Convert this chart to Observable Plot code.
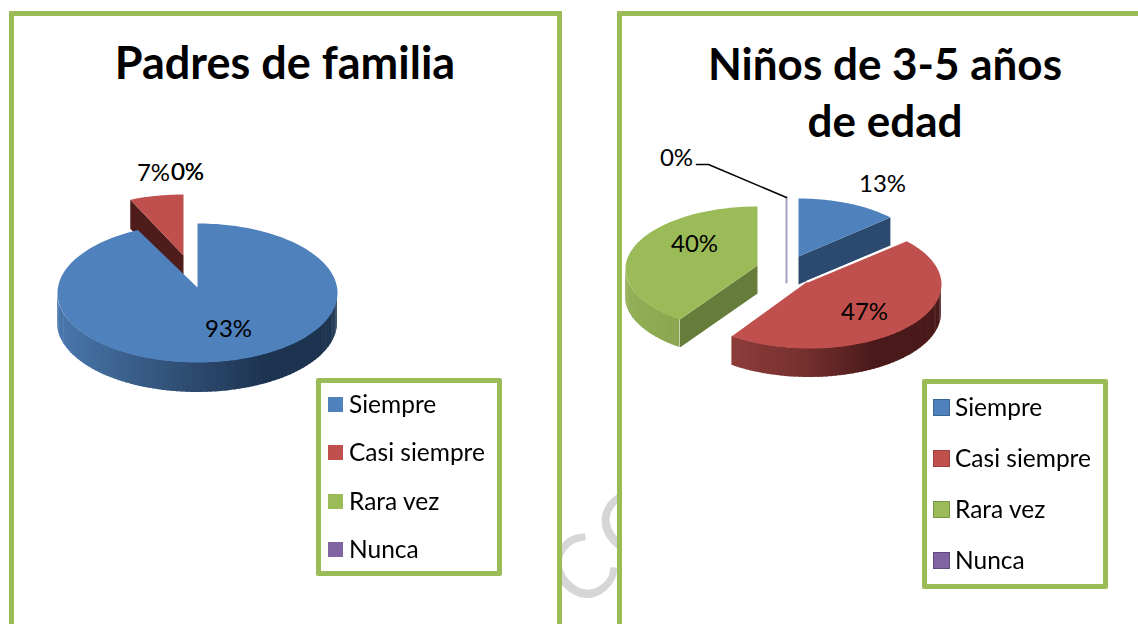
<!DOCTYPE html>
<html><head><meta charset="utf-8">
<script src="https://cdn.jsdelivr.net/npm/d3@7"></script>
<script src="https://cdn.jsdelivr.net/npm/@observablehq/plot@0.6"></script>
<style>
html,body{margin:0;padding:0;background:#fff;overflow:hidden}
#stage{position:relative;width:1138px;height:624px;overflow:hidden;font-family:Lato,sans-serif;color:#000}
.panel{position:absolute;top:11px;height:700px;box-sizing:border-box;border:5px solid #9bbb59;background:#fff}
.title{position:absolute;text-align:center;font-weight:700;line-height:57px;white-space:nowrap}
.legend{position:absolute;box-sizing:border-box;border:5px solid #9bbb59;border-radius:2px;background:#fff}
.item{position:absolute;font-size:24.5px;line-height:26px;white-space:nowrap}
.sw{position:absolute;box-sizing:border-box}
.mark{position:absolute;left:581px;top:511px;font-size:88px;line-height:88px;letter-spacing:7px;color:#d6d6d6;transform:rotate(-42deg);transform-origin:30px 90px;white-space:nowrap}
#plot{position:absolute;left:0;top:0}
</style></head><body>
<div id="stage">
  <div class="mark">CO</div>
  <div class="panel" style="left:9px;width:553px"></div>
  <div class="panel" style="left:617px;width:600px"></div>
  <div class="title" style="left:14px;width:542px;top:34px;font-size:45px">Padres de familia</div>
  <div class="title" style="left:622px;width:526px;top:35px;font-size:44px">Niños de 3-5 años<br>de edad</div>
  <div id="plot"></div>
  <div id="legend-a"></div>
  <div id="legend-b"></div>
</div>
<script>
// ---------- data ----------
const categorias = ["Siempre", "Casi siempre", "Rara vez", "Nunca"];
const padres = [93, 7, 0, 0];
const ninos = [13, 47, 40, 0];
const titulos = ["Padres de familia", "Niños de 3-5 años de edad"];

// ---------- style ----------
const colores = ["#4f81bd", "#c0504d", "#9bbb59", "#8064a2"];
const bordes = ["#3b6593", "#9c3f3c", "#7a9545", "#5f4a7d"];
const caras = ["#2c4a70", "#4e1c1b", "#667c3a", "#a79fc0"];
const rampas = [
  ["#4a78ae", "#2d4a6e", "#1d3450", "#1d3450"],
  ["#a04543", "#74302e", "#4a1a1a", "#4a1a1a"],
  ["#93b056", "#7e9a48", "#6a8239", "#6a8239"],
  ["#8064a2", "#8064a2", "#8064a2", "#8064a2"]
];
// per-slice projection (exploded 3D pie) and label offset; order = painter's order
const vistaPadres = [
  {i: 1, apex: [183, 255], c: [183, 249], rx: 125, ry: 55, d: 29, lab: [-30, -82]},
  {i: 0, apex: [197, 287], c: [197, 292.5], rx: 140, ry: 69.5, d: 30, lab: [31, 42]},
  {i: 2, apex: [183, 255], lab: [4, -83]},
  {i: 3, apex: [183, 255], lab: [4, -83]}
];
const vistaNinos = [
  {i: 3, apex: [786, 254], c: [786, 259], rx: 125, ry: 62, d: 28, lab: [-110, -96]},
  {i: 2, apex: [757, 265], c: [757, 268.5], rx: 132, ry: 62.5, d: 28, lab: [-63, -21]},
  {i: 0, apex: [798, 256], c: [798, 258], rx: 126, ry: 60, d: 28, lab: [84, -72]},
  {i: 1, apex: [807, 281], c: [809, 284], rx: 132, ry: 64, d: 29, lab: [57, 31], halo: 2}
];

// ---------- geometry from values ----------
const rad = a => a * Math.PI / 180;
function angulos(vals) {
  const total = d3.sum(vals); let acc = 0;
  return vals.map(v => { const a0 = acc / total * 360; acc += v; return [a0, acc / total * 360]; });
}
const borde = (s, a) => [s.c[0] + s.rx * Math.sin(rad(a)), s.c[1] - s.ry * Math.cos(rad(a))];
const marks = [];
function pastel(vals, vista, id) {
  const ang = angulos(vals);
  for (const s of vista) {
    const [a0, a1] = ang[s.i], v = vals[s.i], key = id + s.i;
    if (s.rx && v === 0) {
      const [ex, ey] = borde(s, a1);
      marks.push(Plot.line([[ex, ey], [s.apex[0], s.apex[1] + s.d]], {x: "0", y: "1", stroke: caras[s.i], strokeWidth: 2}));
      marks.push(Plot.line([[ex, ey], [ex - 78, ey - 33], [ex - 90, ey - 33]], {x: "0", y: "1", stroke: "#000", strokeWidth: 1.4}));
    } else if (s.rx) {
      // outer wall, strip by strip, facing the viewer
      const lo = Math.max(a0, 90), hi = Math.min(a1, 270), step = 2, strips = [];
      const shade = d3.scaleLinear().domain([0, .5, .75, 1]).range(rampas[s.i]);
      for (let a = lo; a < hi; a += step) {
        const b = Math.min(a + step + .6, hi), sid = key + "-" + a;
        for (const t of [a, b]) {
          const [x, y] = borde(s, t);
          strips.push({x, y1: y, y2: y + s.d, z: sid, fill: shade((Math.sin(rad(a)) + 1) / 2)});
        }
      }
      if (strips.length) marks.push(Plot.area(strips, {x1: "x", y1: "y1", y2: "y2", z: "z", fill: {value: "fill", scale: null}, curve: "linear"}));
      // cut faces
      const cara = a => {
        const p = borde(s, a);
        return [s.apex, p, [p[0], p[1] + s.d], [s.apex[0], s.apex[1] + s.d]];
      };
      if (Math.sin(rad(a1)) > 0.01) marks.push(Plot.line(cara(a1), {x: "0", y: "1", fill: caras[s.i], stroke: "none"}));
      if (Math.sin(rad(a0)) < -0.01) marks.push(Plot.line(cara(a0), {x: "0", y: "1", fill: caras[s.i], stroke: "none"}));
      // top surface
      const top = [s.apex];
      for (let a = a0; a < a1; a += 1.5) top.push(borde(s, a));
      top.push(borde(s, a1), s.apex);
      marks.push(Plot.line(top.map(p => ({x: p[0], y: p[1], cat: categorias[s.i]})), {x: "x", y: "y", z: "cat", fill: "cat", stroke: "none"}));
      if (s.halo) marks.push(Plot.line([borde(s, a0), s.apex], {x: "0", y: "1", stroke: "#fff", strokeWidth: s.halo}));
    }
  }
  for (const s of vista) {
    marks.push(Plot.text([vals[s.i] + "%"], {x: () => s.apex[0] + s.lab[0], y: () => s.apex[1] + s.lab[1], text: d => d,
      fontSize: 24, fontFamily: "Lato, sans-serif", fill: "#000", lineAnchor: "middle"}));
  }
}
pastel(padres, vistaPadres, "a");
pastel(ninos, vistaNinos, "b");

document.getElementById("plot").append(Plot.plot({
  width: 1138, height: 624, margin: 0,
  x: {domain: [0, 1138], range: [0, 1138], axis: null},
  y: {domain: [0, 624], range: [0, 624], axis: null},
  color: {domain: categorias, range: colores},
  style: {background: "transparent"},
  marks
}));

// ---------- legends ----------
function leyenda(host, box, swX, swS, txtX, ys, conBorde) {
  const el = document.getElementById(host);
  el.className = "legend";
  Object.assign(el.style, {left: box[0] + "px", top: box[1] + "px", width: box[2] + "px", height: box[3] + "px"});
  categorias.forEach((c, i) => {
    const sw = document.createElement("div");
    sw.className = "sw";
    Object.assign(sw.style, {position: "fixed", left: swX + "px", top: ys[i] + "px", width: swS + "px", height: swS + "px", background: colores[i],
      border: conBorde ? "1.5px solid " + bordes[i] : "none"});
    el.append(sw);
    const t = document.createElement("div");
    t.className = "item"; t.textContent = c;
    Object.assign(t.style, {position: "fixed", left: txtX + "px", top: (ys[i] + swS / 2 - 14) + "px"});
    el.append(t);
  });
}
leyenda("legend-a", [316, 378, 186, 198], 328, 15, 349, [397, 445, 494, 542], false);
leyenda("legend-b", [922, 379, 186, 210], 933, 17, 955, [399, 450, 501, 552], true);
</script>
</body></html>
